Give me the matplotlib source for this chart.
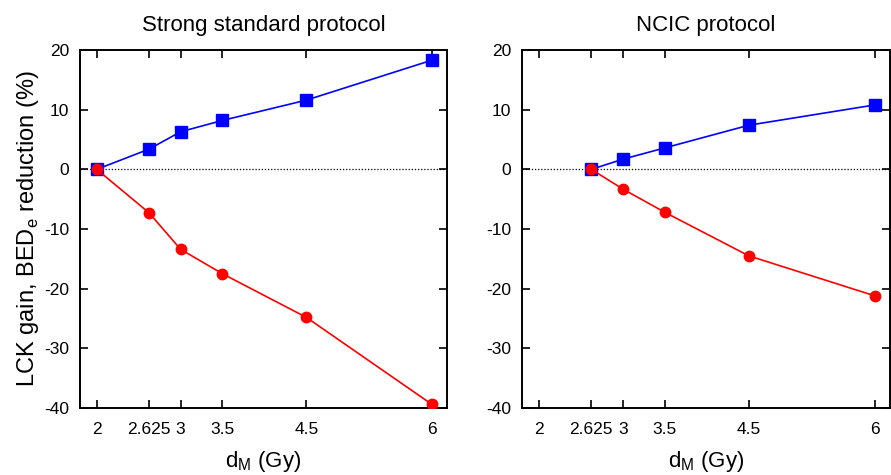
import matplotlib
matplotlib.use("Agg")
import matplotlib.pyplot as plt

plt.rcParams['font.family'] = ['Liberation Sans', 'DejaVu Sans']
plt.rcParams['axes.unicode_minus'] = False

xticks = [2, 2.625, 3, 3.5, 4.5, 6]
xticklabels = ['2', '2.625', '3', '3.5', '4.5', '6']
yticks = [-40, -30, -20, -10, 0, 10, 20]

# Strong standard protocol
x_std = [2, 2.625, 3, 3.5, 4.5, 6]
lck_std = [0, 3.4, 6.3, 8.2, 11.6, 18.3]
bed_std = [0, -7.3, -13.4, -17.5, -24.8, -39.4]

# NCIC protocol
x_ncic = [2.625, 3, 3.5, 4.5, 6]
lck_ncic = [0, 1.7, 3.6, 7.4, 10.8]
bed_ncic = [0, -3.3, -7.2, -14.5, -21.2]

titles = ['Strong standard protocol', 'NCIC protocol']

fig = plt.figure(figsize=(8.91, 4.75), dpi=100)
ax1 = fig.add_axes([0.0898, 0.141, 0.412, 0.7537])
ax2 = fig.add_axes([0.5859, 0.141, 0.413, 0.7537])

for ax, x, lck, bed, title in [(ax1, x_std, lck_std, bed_std, titles[0]),
                               (ax2, x_ncic, lck_ncic, bed_ncic, titles[1])]:
    ax.axhline(0, color='black', linestyle=(0, (1, 1.5)), linewidth=0.9, zorder=1)
    ax.plot(x, lck, color='#0000ff', marker='s', markersize=8.3, linewidth=1.2, zorder=3)
    ax.plot(x, bed, color='#ff0000', marker='o', markersize=7.5, linewidth=1.2, zorder=4)
    ax.set_xlim(1.8, 6.18)
    ax.set_ylim(-40, 20)
    ax.set_xticks(xticks)
    ax.set_xticklabels(xticklabels)
    ax.set_yticks(yticks)
    ax.tick_params(direction='in', length=6, width=1.2, top=True, right=True,
                   labelsize=12.5)
    ax.tick_params(axis='x', pad=10)
    ax.tick_params(axis='y', pad=8)
    for s in ax.spines.values():
        s.set_linewidth(1.4)
    ax.set_title(title, fontsize=16, pad=14)
    ax.set_xlabel(r'd$_\mathregular{M}$ (Gy)', fontsize=16, labelpad=9)

ax1.set_ylabel(r'LCK gain, BED$_\mathregular{e}$ reduction (%)', fontsize=17, labelpad=2)

fig.savefig('out.png', dpi=100)
